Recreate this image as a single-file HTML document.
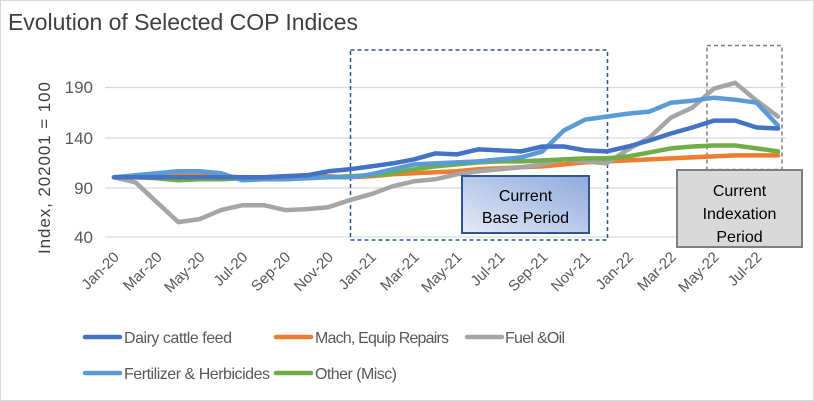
<!DOCTYPE html>
<html><head><meta charset="utf-8"><style>
body{margin:0;background:#fff}
svg{display:block;font-family:"Liberation Sans",sans-serif}
</style></head><body>
<svg id="c" width="814" height="401" viewBox="0 0 814 401" xmlns="http://www.w3.org/2000/svg">
<rect x="0.5" y="0.5" width="813" height="400" fill="#fff" stroke="#d9d9d9"/>
<text x="8" y="30" font-size="23" fill="#404040" textLength="350">Evolution of Selected COP Indices</text>
<g stroke="#d9d9d9" stroke-width="1.3">
<line x1="105" x2="786" y1="87.5" y2="87.5"/><line x1="105" x2="786" y1="138" y2="138"/>
<line x1="105" x2="786" y1="188" y2="188"/><line x1="105" x2="786" y1="237" y2="237"/>
</g>
<g font-size="17" fill="#595959" text-anchor="end">
<text x="93" y="93">190</text><text x="93" y="144">140</text><text x="93" y="194">90</text><text x="93" y="243">40</text>
</g>
<text transform="translate(50,168) rotate(-90)" font-size="17" fill="#404040" text-anchor="middle" textLength="172">Index, 202001 = 100</text>
<g id="xl" font-size="15" fill="#595959" text-anchor="end"></g>
<rect x="350.5" y="50" width="257" height="190" fill="none" stroke="#2F5597" stroke-width="1.5" stroke-dasharray="4,3"/>
<rect x="707" y="45.5" width="75" height="124" fill="none" stroke="#7f7f7f" stroke-width="1.5" stroke-dasharray="4,3"/>
<g id="ln" fill="none" stroke-width="4.5" stroke-linejoin="round" stroke-linecap="round"></g>
<defs><linearGradient id="g1" x1="0" y1="1" x2="1" y2="0"><stop offset="0" stop-color="#e4eaf7"/><stop offset="1" stop-color="#8faadc"/></linearGradient></defs>
<rect x="462" y="176" width="127" height="57" fill="url(#g1)" stroke="#2F5597" stroke-width="2"/>
<g font-size="16" fill="#000" text-anchor="middle">
<text x="525.5" y="201">Current</text><text x="525.5" y="223">Base Period</text>
</g>
<rect x="677" y="170" width="125" height="77" fill="#d9d9d9" stroke="#7f7f7f" stroke-width="2"/>
<g font-size="16" fill="#000" text-anchor="middle">
<text x="739.5" y="196">Current</text><text x="739.5" y="219">Indexation</text><text x="739.5" y="242">Period</text>
</g>
<g stroke-width="4.5" stroke-linecap="round">
<line x1="85" x2="120" y1="337" y2="337" stroke="#4472C4"/>
<line x1="276" x2="311" y1="337" y2="337" stroke="#ED7D31"/>
<line x1="467" x2="502" y1="337" y2="337" stroke="#A5A5A5"/>
<line x1="85" x2="120" y1="373" y2="373" stroke="#5B9BD5"/>
<line x1="276" x2="311" y1="373" y2="373" stroke="#70AD47"/>
</g>
<g font-size="16" fill="#595959">
<text x="124" y="343" textLength="108">Dairy cattle feed</text><text x="315" y="343" textLength="134">Mach, Equip Repairs</text><text x="505" y="343" textLength="60">Fuel &amp;Oil</text>
<text x="124" y="379" textLength="146">Fertilizer &amp; Herbicides</text><text x="315" y="379" textLength="82">Other (Misc)</text>
</g>
</svg>
<script>
var NS="http://www.w3.org/2000/svg";
function X(i){return 114+i*21.42}
function Y(v){return 237-(v-40)*0.995}
var series=[
["#ED7D31",[100,100,101,103,102,101,100,100,101,102,101,100,101,103,104,105,106,108,109,110,111,113,115,116,117,118,119,120,121,122,122,122]],
["#A5A5A5",[100,95,75,55,58,67,72,72,67,68,70,77,83,91,96,98,103,106,108,110,113,118,116,114,128,140,160,170,189,195,177,161]],
["#70AD47",[100,100,99,97,98,98,99,100,100,101,100,101,102,104,108,111,113,115,116,116,117,118,119,119,121,125,129,131,132,132,129,126]],
["#5B9BD5",[100,102,104,106,106,104,97,98,98,99,100,100,103,108,113,114,115,116,118,120,126,147,158,161,164,166,175,177,180,178,175,152]],
["#4472C4",[100,100,100,100,100,100,100,100,101,102,106,108,111,114,118,124,123,128,127,126,131,131,127,126,131,137,144,150,157,157,150,149]]
];
var g=document.getElementById("ln");
series.forEach(function(s){var p=document.createElementNS(NS,"polyline");
p.setAttribute("points",s[1].map(function(v,i){return X(i).toFixed(1)+","+Y(v).toFixed(1)}).join(" "));
p.setAttribute("stroke",s[0]);g.appendChild(p);});
var m=["Jan","Mar","May","Jul","Sep","Nov"],xl=document.getElementById("xl");
for(var i=0;i<32;i+=2){var yr=20+Math.floor(i/12);var t=document.createElementNS(NS,"text");
var x=X(i)+6,y=258;t.setAttribute("transform","translate("+x+","+y+") rotate(-45)");
t.textContent=m[(i%12)/2]+"-"+yr;xl.appendChild(t);}
</script>
</body></html>
